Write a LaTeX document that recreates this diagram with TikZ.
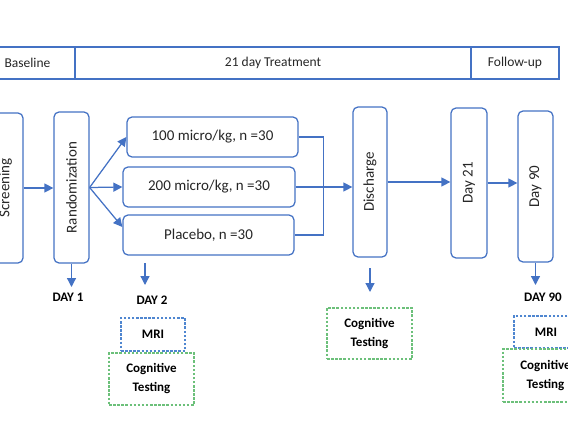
\documentclass[tikz,border=0pt]{standalone}
\usepackage{fontspec}
\setmainfont{Carlito}
\usetikzlibrary{arrows.meta}
\definecolor{obl}{HTML}{4472C4}
\definecolor{mbl}{HTML}{4F86D0}
\definecolor{cgr}{HTML}{6CC07A}
\definecolor{txt}{HTML}{262626}
\begin{document}
\begin{tikzpicture}[x=1pt,y=-1pt,
  box/.style={draw=obl, line width=1.25pt, rounded corners=5pt, fill=white, text=txt,
    font=\fontsize{15}{18}\selectfont, inner sep=0pt},
  vbox/.style={box, rotate=90},
  arr/.style={draw=obl, line width=1.25pt, -{Triangle[width=9pt,length=9pt]}},
  ln/.style={draw=obl, line width=1.25pt},
  hdr/.style={draw=obl, line width=1.1pt, minimum height=32pt, inner sep=0pt,
    font=\fontsize{13.5}{15}\selectfont, text=txt},
  lbl/.style={font=\bfseries\fontsize{13}{15}\selectfont, text=black, inner sep=1pt},
  tbox/.style={line width=1.3pt, dash pattern=on 2.5pt off 1.6pt, inner sep=0pt,
    align=center, font=\bfseries\fontsize{13}{19}\selectfont, text=black},
  mri/.style={tbox, draw=mbl},
  cog/.style={tbox, draw=cgr}]
\useasboundingbox (0,0) rectangle (568,426);
\clip (0,0) rectangle (568,426);
% header
\node[hdr, minimum width=95pt] (base) at (27.5,63) {Baseline};
\node[hdr, minimum width=396pt] (treat) at (273,63) {21 day Treatment};
\node[hdr, minimum width=88pt] (fol) at (515,63) {Follow-up};
% main boxes
\node[vbox, minimum width=150pt, minimum height=35pt] (scr) at (5.5,188) {Screening};
\node[vbox, minimum width=151pt, minimum height=35pt] (rnd) at (71.5,187.5) {Randomization};
\node[box, minimum width=171pt, minimum height=40pt] (b1) at (212.5,137) {100 micro/kg, n =30};
\node[box, minimum width=172pt, minimum height=40pt] (b2) at (209,187) {200 micro/kg, n =30};
\node[box, minimum width=171pt, minimum height=40pt] (b3) at (208.5,235) {Placebo, n =30};
\node[vbox, minimum width=150pt, minimum height=34pt] (dis) at (370,182) {Discharge};
\node[vbox, minimum width=150pt, minimum height=36pt] (d21) at (469,183) {Day 21};
\node[vbox, minimum width=151pt, minimum height=35pt] (d90) at (535.5,186.5) {Day 90};
% connectors
\draw[arr] (scr.south) -- (scr.south -| rnd.north);
\draw[arr] (rnd.south) -- (b1.west);
\draw[arr] (rnd.south) -- (b2.west);
\draw[arr] (rnd.south) -- ([yshift=8pt]b3.west);
\draw[ln] (b1.east) -- ++(25,0) |- (b3.east);
\draw[arr] (b2.east) -- (b2.east -| dis.north);
\draw[arr] (dis.south) -- (dis.south -| d21.north);
\draw[arr] (d21.south) -- (d21.south -| d90.north);
% bottom labels
\node[lbl] (day1) at (68,297) {DAY 1};
\node[lbl] (day2) at (152,300) {DAY 2};
\node[lbl] (day90) at (543,297) {DAY 90};
\coordinate (e1) at (71.5,287);
\draw[arr] (rnd.west) -- (e1);
\coordinate (s2) at (145,263);
\coordinate (e2) at (145,285);
\draw[arr] (s2) -- (e2);
\coordinate (sd) at (370,268);
\coordinate (ed) at (370,292);
\draw[arr] (sd) -- (ed);
\coordinate (e90) at (535.5,285);
\draw[arr] (d90.west) -- (e90);
% test boxes
\node[mri, minimum width=64pt, minimum height=33pt] (mri2) at (153,334.5) {MRI};
\node[cog, minimum width=85pt, minimum height=52pt] (cog2) at (151.5,379) {Cognitive\\Testing};
\node[cog, minimum width=85pt, minimum height=51pt] (cogd) at (369.5,333.5) {Cognitive\\Testing};
\node[mri, minimum width=64pt, minimum height=32pt] (mri90) at (546,332) {MRI};
\node[cog, minimum width=85pt, minimum height=53pt] (cog90) at (545.5,375.5) {Cognitive\\Testing};
\end{tikzpicture}
\end{document}
